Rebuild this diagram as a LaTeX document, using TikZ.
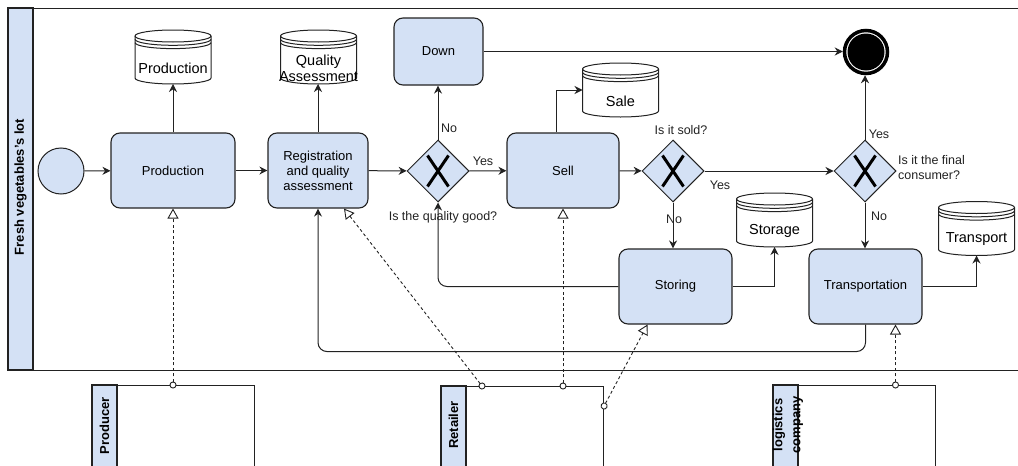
\documentclass[tikz,border=0pt]{standalone}
\usepackage{fontspec}
\setmainfont{Liberation Sans}
\usetikzlibrary{arrows.meta,calc,shapes.geometric}
\definecolor{bfill}{HTML}{D4E1F5}
\definecolor{lc}{HTML}{222222}
\tikzset{
 task/.style={draw=lc, line width=1.1pt, fill=bfill, rounded corners=9pt, minimum height=75pt, inner sep=2pt, align=center, font=\fontsize{13}{15}\selectfont},
 gate/.style={draw=lc, line width=1pt, fill=bfill, diamond, minimum width=62pt, minimum height=62pt, inner sep=0},
 xmark/.style={line width=3pt, draw=black},
 seqflow/.style={draw=lc, line width=1pt, arrows={-{Stealth[length=8pt,width=8pt]}}},
 msg/.style={draw=lc, line width=0.9pt, dash pattern=on 3pt off 2.5pt, shorten <=-3.5pt, arrows={{Circle[open,length=7pt,width=7pt,fill=white]}-{Triangle[open,length=10pt,width=11pt,fill=white]}}},
 lbl/.style={font=\fontsize{12.5}{15}\selectfont, text=lc, inner sep=0},
 pool/.style={draw=lc, line width=1.1pt, inner sep=0},
 band/.style={draw=lc, line width=1.1pt, fill=bfill},
 plabel/.style={font=\bfseries\fontsize{13}{18}\selectfont, rotate=90, align=center, inner sep=0},
 store/.style={draw=lc, line width=1pt, fill=white},
 stext/.style={font=\fontsize{14.5}{16}\selectfont, align=center, inner sep=0},
}
\newcommand\dstore[4]{%
 \begin{scope}[shift={(#2,#3)}]
 \node[minimum width=76pt, minimum height=54pt, inner sep=0, outer sep=0] (#1) at (0,0) {};
 \draw[store] (-38,21) -- (-38,-21) arc[start angle=180,end angle=360,x radius=38,y radius=6] -- (38,21) arc[start angle=0,end angle=180,x radius=38,y radius=6] -- cycle;
 \draw[store, fill=none] (-38,21) arc[start angle=180,end angle=360,x radius=38,y radius=6];
 \draw[store, fill=none] (-38,17.7) arc[start angle=180,end angle=360,x radius=38,y radius=6];
 \draw[store, fill=none] (-38,14.4) arc[start angle=180,end angle=360,x radius=38,y radius=6];
 \node[stext] (#1-t) at (0,-11) {#4};
 \end{scope}}
\begin{document}
\begin{tikzpicture}[x=1pt,y=1pt]
\useasboundingbox (0,0) rectangle (1018,-466);
\clip (0,0) rectangle (1018,-466);
% pools
\node[pool, anchor=north west, minimum width=1030pt, minimum height=362pt] (mainpool) at (8,-8) {};
\draw[band] (mainpool.north west) rectangle (33,-370);
\node[plabel] (mainlbl) at (20.5,-187) {Fresh vegetables's lot};
\node[pool, anchor=north west, minimum width=162pt, minimum height=120pt] (producer) at (92,-385) {};
\draw[band] (92,-385) rectangle (117,-505);
\node[plabel] (prodlbl) at (104.5,-426) {Producer};
\node[pool, anchor=north west, minimum width=162pt, minimum height=120pt] (retailer) at (441,-386) {};
\draw[band] (441,-386) rectangle (466,-506);
\node[plabel] (retlbl) at (453.5,-425) {Retailer};
\node[pool, anchor=north west, minimum width=162pt, minimum height=120pt] (logist) at (773,-385) {};
\draw[band] (773,-385) rectangle (798,-505);
\node[plabel] (loglbl) at (788,-425) {logistics\\company};
% data stores
\dstore{prodS}{173}{-57}{Production}
\dstore{qaS}{318.5}{-57}{Quality\\Assessment}
\dstore{saleS}{620.5}{-90}{Sale}
\dstore{storS}{774.5}{-220}{Storage}
\dstore{tranS}{976.5}{-228.5}{Transport}
% events
\node[circle, draw=lc, fill=bfill, minimum size=46pt, line width=1pt, inner sep=0] (start) at (61,-171) {};
\node[circle, draw=black, line width=3.5pt, minimum size=43pt, fill=white, inner sep=0] (endE) at (866,-52) {};
\fill[black] (endE.center) circle (18.5);
% tasks
\node[task, minimum width=124pt] (prodT) at (173,-170.5) {Production};
\node[task, minimum width=100pt] (regT) at (318,-170.5) {Registration\\and quality\\assessment};
\node[task, minimum width=89pt, minimum height=67pt] (downT) at (438.5,-51.5) {Down};
\node[task, minimum width=112pt] (sellT) at (563,-170.5) {Sell};
\node[task, minimum width=113pt] (storT) at (675.5,-286.5) {Storing};
\node[task, minimum width=113pt] (tranT) at (865.5,-286.5) {Transportation};
% gateways
\node[gate] (g1) at (438,-171) {};
\node[gate] (g2) at (673,-171) {};
\node[gate] (g3) at (865,-171) {};
\foreach \g in {g1,g2,g3}{
 \draw[xmark] ([shift={(-10.5,-15.5)}]\g.center) -- ([shift={(10.5,15.5)}]\g.center);
 \draw[xmark] ([shift={(-10.5,15.5)}]\g.center) -- ([shift={(10.5,-15.5)}]\g.center);
}
% sequence flows
\draw[seqflow] (start) -- (prodT);
\draw[seqflow] (prodT) -- (regT);
\draw[seqflow] (regT) -- (g1);
\draw[seqflow] (prodT.north) -- (prodS.south);
\draw[seqflow] (regT.north) -- (regT.north |- qaS.south);
\draw[seqflow] (g1) -- (sellT);
\draw[seqflow] (g1.north) -- (g1.north |- downT.south);
\draw[seqflow] (downT.east) -- (downT.east -| endE.west);
\draw[seqflow] ([xshift=-7pt]sellT.north) |- (saleS.west);
\draw[seqflow] (sellT) -- (g2);
\draw[seqflow] (g2) -- (g3);
\draw[seqflow] (g2.south) -- (g2.south |- storT.north);
\draw[seqflow] (g3.north) -- (g3.north |- endE.south);
\draw[seqflow] (g3.south) -- (g3.south |- tranT.north);
\draw[seqflow] (storT.east) -| (storS.south);
\draw[seqflow] (tranT.east) -| (tranS.south);
\draw[seqflow, rounded corners=9pt] (storT.west) -| (g1.south);
\draw[seqflow, rounded corners=9pt] (tranT.south) -- ++(0,-27) -| (regT.south);
% message flows
\coordinate (regIn) at ([xshift=26pt]regT.south);
\coordinate (storIn) at ([xshift=-28pt]storT.south);
\coordinate (tranIn) at ([xshift=30pt]tranT.south);
\draw[msg] (producer.north -| prodT.south) -- (prodT.south);
\draw[msg] ([xshift=41pt]retailer.north west) -- (regIn);
\draw[msg] (retailer.north -| sellT.south) -- (sellT.south);
\draw[msg] ([yshift=-20pt]retailer.north east) -- (storIn);
\draw[msg] (logist.north -| tranIn) -- (tranIn);
% labels
\node[lbl] (l1) at (483,-161) {Yes};
\node[lbl] (l2) at (449,-128) {No};
\node[lbl] (l3) at (443,-217) {Is the quality good?};
\node[lbl] (l4) at (681,-130) {Is it sold?};
\node[lbl] (l5) at (720,-185) {Yes};
\node[lbl] (l6) at (674,-219) {No};
\node[lbl] (l7) at (879,-134) {Yes};
\node[lbl] (l8) at (879,-216) {No};
\node[lbl, anchor=west, align=left] (l9) at (898,-168) {Is it the final\\consumer?};
\end{tikzpicture}
\end{document}
